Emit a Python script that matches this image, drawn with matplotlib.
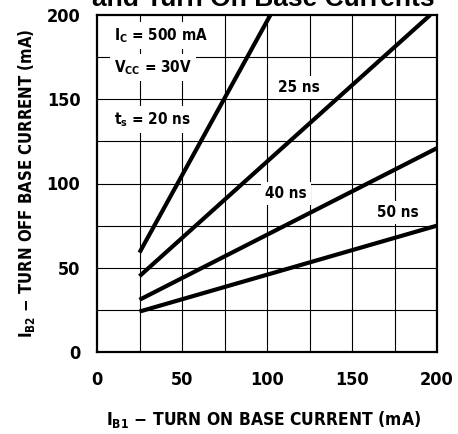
import matplotlib
matplotlib.use('Agg')
import matplotlib.pyplot as plt

plt.rcParams['font.family'] = ['DejaVu Sans']
plt.rcParams['font.stretch'] = 'condensed'
plt.rcParams['font.weight'] = 'bold'
plt.rcParams['axes.labelweight'] = 'bold'
plt.rcParams['mathtext.default'] = 'regular'

# endpoints of each storage time curve (IB1, IB2 in mA)
ib1_20ns = [25, 102]
ib2_20ns = [59, 200]
ib1_25ns = [25, 196]
ib2_25ns = [45, 200]
ib1_40ns = [25, 200]
ib2_40ns = [31, 121]
ib1_50ns = [25, 200]
ib2_50ns = [24, 75]

ticks = [0, 50, 100, 150, 200]
grid_steps = [0, 25, 50, 75, 100, 125, 150, 175, 200]

fig = plt.figure(figsize=(4.58, 4.34), dpi=100)
ax = fig.add_axes([97 / 458, 1 - 352 / 434, 340 / 458, 337 / 434])

for g in grid_steps[1:-1]:
    ax.axvline(g, color='black', lw=0.8, zorder=1)
    ax.axhline(g, color='black', lw=0.8, zorder=1)

ax.plot(ib1_20ns, ib2_20ns, color='black', lw=3, solid_capstyle='butt', zorder=3)
ax.plot(ib1_25ns, ib2_25ns, color='black', lw=3, solid_capstyle='butt', zorder=3)
ax.plot(ib1_40ns, ib2_40ns, color='black', lw=3, solid_capstyle='butt', zorder=3)
ax.plot(ib1_50ns, ib2_50ns, color='black', lw=3, solid_capstyle='butt', zorder=3)

box = dict(facecolor='white', edgecolor='none', pad=3)
ax.text(119, 157, '25 ns', ha='center', va='center', fontsize=11, bbox=box, zorder=2)
ax.text(111, 94, '40 ns', ha='center', va='center', fontsize=11, bbox=box, zorder=2)
ax.text(177, 83, '50 ns', ha='center', va='center', fontsize=11, bbox=box, zorder=2)
ax.text(10, 138, r't$_s$ = 20 ns', ha='left', va='center', fontsize=11, bbox=box, zorder=2)
ax.text(10, 188, r'I$_C$ = 500 mA', ha='left', va='center', fontsize=11, bbox=box, zorder=2)
ax.text(10, 169, r'V$_{CC}$ = 30V', ha='left', va='center', fontsize=11, bbox=box, zorder=2)

ax.set_xlim(0, 200)
ax.set_ylim(0, 200)
ax.set_xticks(ticks)
ax.set_yticks(ticks)
ax.tick_params(length=0, labelsize=13, pad=14)
ax.tick_params(axis='y', pad=12)
for s in ax.spines.values():
    s.set_linewidth(1.6)

ax.set_xlabel(r'I$_{B1}$ $-$ TURN ON BASE CURRENT (mA)', fontsize=12.5)
ax.xaxis.set_label_coords(0.491, -0.169)
ax.set_ylabel(r'I$_{B2}$ $-$ TURN OFF BASE CURRENT (mA)', fontsize=12)
ax.yaxis.set_label_coords(-0.177, 0.5)

fig.text(263 / 458, 1 - 6 / 434, 'and Turn On Base Currents', ha='center', va='baseline',
         fontsize=19, fontweight='bold', family='Liberation Sans', stretch='normal')

fig.savefig('out.png', dpi=100)
